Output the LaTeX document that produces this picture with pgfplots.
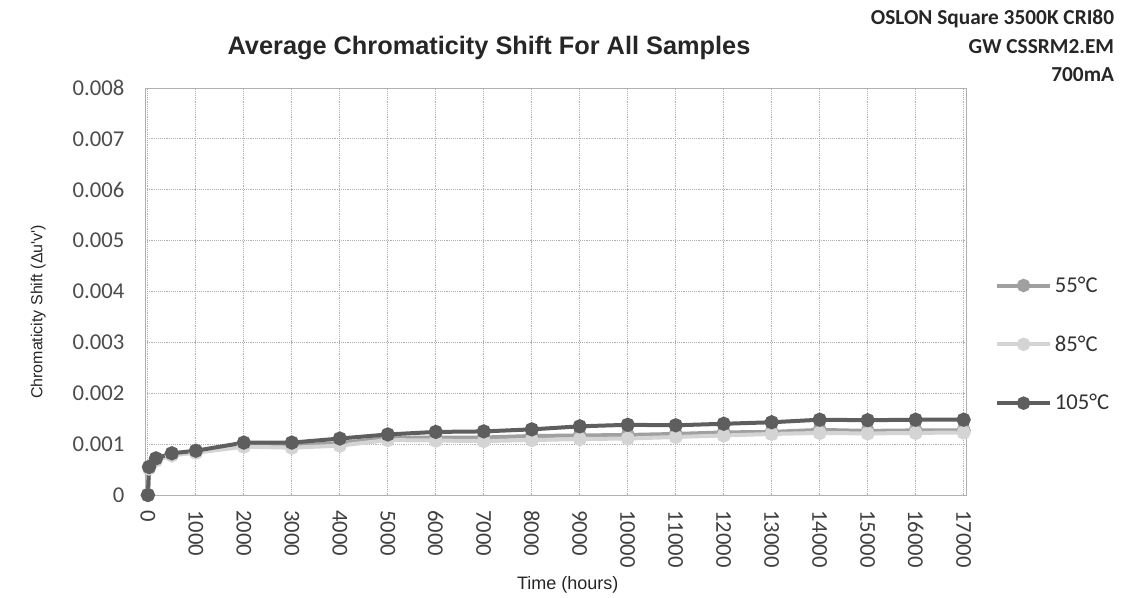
\documentclass[border=0pt]{standalone}
\usepackage{pgfplots}
\pgfplotsset{compat=1.18}
\usepackage{fontspec}
\setmainfont{Carlito}
\newfontfamily\arialfont{Liberation Sans}

\definecolor{cA}{HTML}{A0A0A0}
\definecolor{cB}{HTML}{D4D4D4}
\definecolor{cC}{HTML}{5E5E5E}
\definecolor{gridc}{HTML}{B0B0B0}

\begin{document}
\begin{tikzpicture}
\path[use as bounding box] (-108.75pt,-76.5pt) rectangle (735.75pt,371.25pt);
\begin{axis}[
    at={(0pt,0pt)}, anchor=south west,
    scale only axis,
    width=615.75pt, height=305.25pt,
    xmin=-60, xmax=17050,
    ymin=0, ymax=0.008,
    xtick={0,1000,...,17000},
    xticklabels={0,1000,2000,3000,4000,5000,6000,7000,8000,9000,10000,11000,12000,13000,14000,15000,16000,17000},
    scaled x ticks=false,
    xticklabel style={yshift=-8pt, rotate=-90, anchor=west, font=\fontsize{17}{17}\selectfont, text=black!75},
    ytick={0,0.001,...,0.008},
    yticklabels={0,0.001,0.002,0.003,0.004,0.005,0.006,0.007,0.008},
    yticklabel style={xshift=-12pt, font=\fontsize{17}{17}\selectfont, text=black!70},
    scaled y ticks=false,
    tick style={draw=none},
    grid=major,
    major grid style={gridc, densely dotted, line width=0.6pt},
    axis line style={gridc, line width=0.6pt},
    xlabel={Time (hours)},
    ylabel={Chromaticity Shift (Δu'v')},
    xlabel style={at={(axis description cs:0.515,-0.221)}, anchor=center, font=\arialfont\fontsize{13.5}{14}\selectfont, text=black!85},
    ylabel style={at={(axis description cs:-0.130,0.45)}, anchor=center, font=\arialfont\fontsize{12}{14}\selectfont, text=black!85},
    legend style={at={(1.03,0.55)}, anchor=north west, draw=none, fill=none,
        font=\fontsize{17}{17}\selectfont, row sep=27pt, text=black!80},
    legend cell align={left},
    legend image code/.code={
        \draw[#1, line width=3pt] (0pt,0pt) -- (40pt,0pt);
        \draw[#1, mark size=3.5pt, mark repeat=1] plot coordinates {(20pt,0pt)};
    },
    clip=false,
]
\addplot[cA, line width=3pt, mark=*, mark size=3.8pt, mark options={fill=cA, draw=cA}] coordinates {
    (0,0) (24,0.00055) (168,0.00070) (500,0.00080) (1000,0.00085)
    (2000,0.00098) (3000,0.00097) (4000,0.00102) (5000,0.00112) (6000,0.00113)
    (7000,0.00113) (8000,0.00116) (9000,0.00117) (10000,0.00118) (11000,0.00120)
    (12000,0.00123) (13000,0.00124) (14000,0.00128) (15000,0.00126) (16000,0.00127)
    (17000,0.00127)
};
\addlegendentry{55°C}
\addplot[cB, line width=3pt, mark=*, mark size=3.8pt, mark options={fill=cB, draw=cB}] coordinates {
    (0,0) (24,0.00052) (168,0.00068) (500,0.00078) (1000,0.00083)
    (2000,0.00095) (3000,0.00093) (4000,0.00097) (5000,0.00108) (6000,0.00107)
    (7000,0.00106) (8000,0.00108) (9000,0.00110) (10000,0.00111) (11000,0.00114)
    (12000,0.00117) (13000,0.00120) (14000,0.00122) (15000,0.00121) (16000,0.00122)
    (17000,0.00123)
};
\addlegendentry{85°C}
\addplot[cC, line width=3pt, mark=*, mark size=3.8pt, mark options={fill=cC, draw=cC}] coordinates {
    (0,0) (24,0.00055) (168,0.00072) (500,0.00082) (1000,0.00087)
    (2000,0.00103) (3000,0.00103) (4000,0.00111) (5000,0.00119) (6000,0.00124)
    (7000,0.00125) (8000,0.00129) (9000,0.00135) (10000,0.00138) (11000,0.00137)
    (12000,0.00140) (13000,0.00143) (14000,0.00148) (15000,0.00147) (16000,0.00148)
    (17000,0.00148)
};
\addlegendentry{105°C}
\end{axis}
\node[font=\arialfont\bfseries\fontsize{19}{19}\selectfont, text=black!85] at (258pt,335pt) {Average Chromaticity Shift For All Samples};
\node[font=\bfseries\fontsize{16}{21.5}\selectfont, align=right, anchor=north east, text=black!85, inner sep=0pt] at (727pt,364pt) {OSLON Square 3500K CRI80\\GW CSSRM2.EM\\700mA};
\end{tikzpicture}
\end{document}
